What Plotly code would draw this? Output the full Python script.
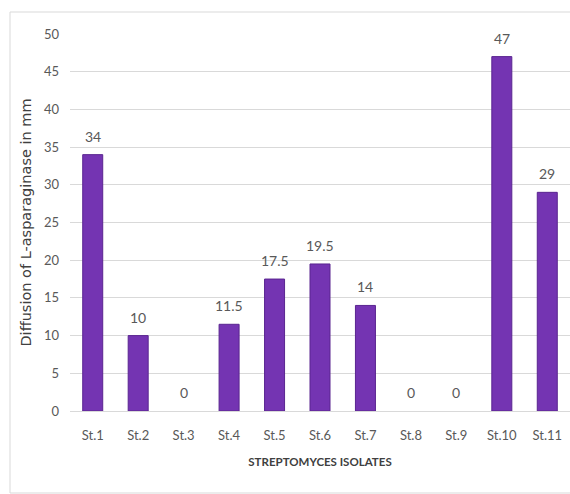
import plotly.graph_objects as go

categories = ["St.1", "St.2", "St.3", "St.4", "St.5", "St.6", "St.7", "St.8", "St.9", "St.10", "St.11"]
values = [34, 10, 0, 11.5, 17.5, 19.5, 14, 0, 0, 47, 29]
labels = ["34", "10", "0", "11.5", "17.5", "19.5", "14", "0", "0", "47", "29"]

W, H = 570, 494
ml, mr, mt, mb = 70, 0, 34, 83
pw = W - ml - mr
ph = H - mt - mb

def px_x(x):
    return (x - ml) / pw

def px_y(y):
    return (H - mb - y) / ph

font_main = "Lato, Roboto, sans-serif"

fig = go.Figure()
fig.add_trace(go.Bar(
    x=categories, y=values,
    marker=dict(color="#7434B2",
                line=dict(color="#5A2590", width=[1 if v > 0 else 0 for v in values])),
    width=0.44, cliponaxis=False,
))

for c, v, t in zip(categories, values, labels):
    fig.add_annotation(x=c, y=v, text=t, showarrow=False, yanchor="bottom",
                       yshift=8, font=dict(family=font_main, size=14, color="#595959"))

fig.update_layout(
    width=W, height=H,
    margin=dict(l=ml, r=mr, t=mt, b=mb),
    paper_bgcolor="white", plot_bgcolor="white",
    showlegend=False,
    xaxis=dict(
        showline=True, linecolor="#d9d9d9", linewidth=1,
        ticks="", showgrid=False, ticklabelstandoff=12,
        tickfont=dict(family=font_main, size=13, color="#595959"),
        title=dict(text="<b>STREPTOMYCES ISOLATES</b>", standoff=16,
                   font=dict(family=font_main, size=11.5, color="#404040")),
    ),
    yaxis=dict(
        range=[0, 50], dtick=5, showgrid=True, gridcolor="#d9d9d9", gridwidth=1,
        zeroline=False, showline=False, ticks="", ticklabelstandoff=10,
        tickfont=dict(family=font_main, size=13, color="#595959"),
        title=dict(text="Diffusion of L-asparaginase in mm", standoff=8,
                   font=dict(family="DejaVu Sans, sans-serif", size=14.5, color="#404040")),
    ),
    shapes=[dict(
        type="rect", xref="paper", yref="paper",
        x0=px_x(10), x1=px_x(575), y0=px_y(493), y1=px_y(12),
        line=dict(color="#d9d9d9", width=1), layer="below",
    )],
)

fig.write_html("out.html")
